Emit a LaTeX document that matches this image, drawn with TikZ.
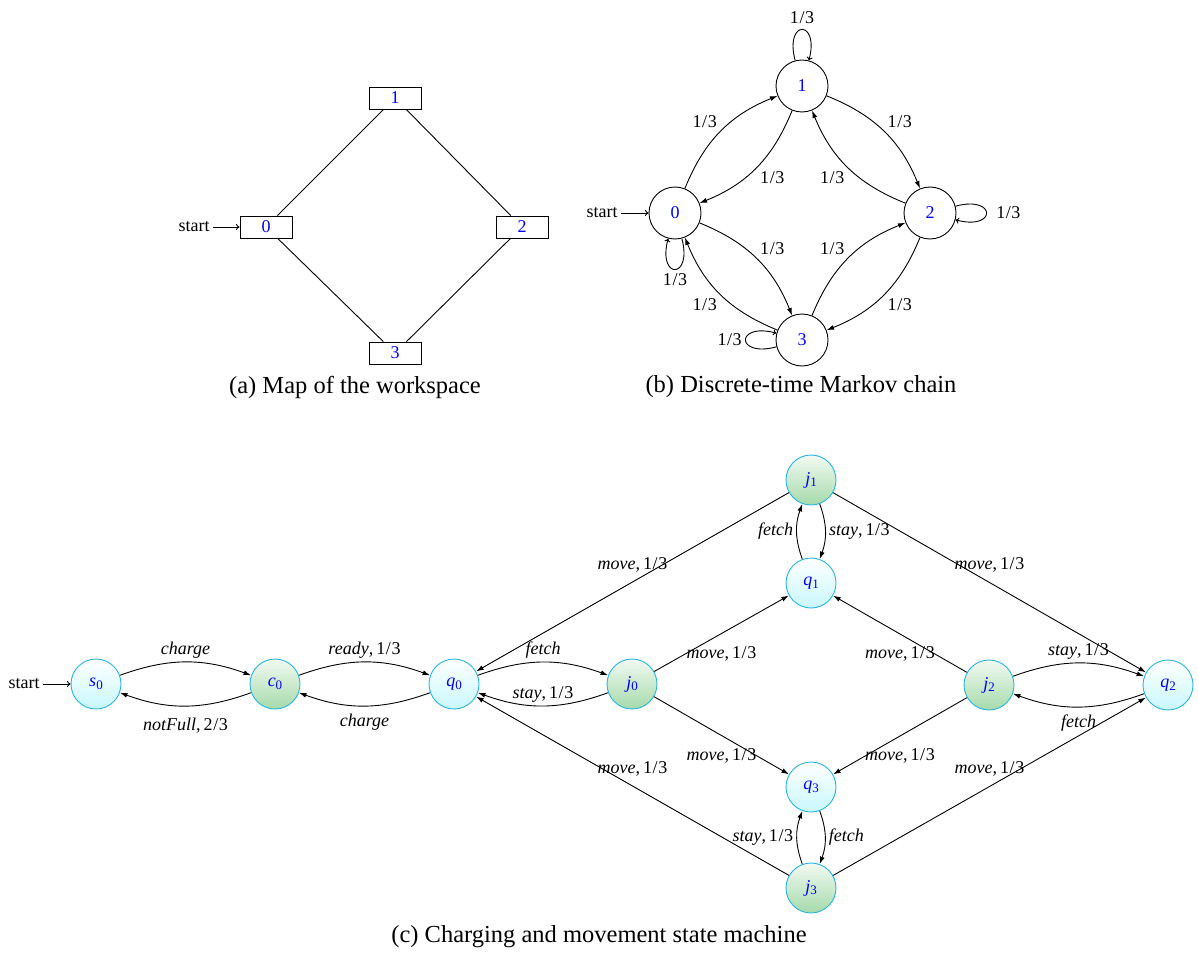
\documentclass[tikz,border=0pt]{standalone}
\usepackage{fontspec}
\setmainfont{Liberation Serif}
\usetikzlibrary{arrows.meta}
\definecolor{nodeborder}{RGB}{40,180,230}
\definecolor{qbottom}{RGB}{200,248,253}
\definecolor{jbottom}{RGB}{165,218,170}
\definecolor{jtop}{RGB}{242,250,242}
\definecolor{numblue}{RGB}{0,0,255}
\newcommand\lblfont{\fontsize{18}{20}\selectfont}
\newcommand\capfont{\fontsize{24.5}{28}\selectfont}
\newcommand\stname[2]{\textit{#1}\raisebox{-0.35ex}{\fontsize{13}{14}\selectfont #2}}
\newcommand\thd{1\kern0.6pt/\kern0.6pt3}
\newcommand\mv{\textit{move},\,\thd}
\begin{document}
\begin{tikzpicture}[x=1pt,y=1pt,line width=0.9pt,font=\lblfont,
  mapbox/.style={draw, minimum width=52pt, minimum height=22pt, inner sep=0pt, text=numblue},
  chainstate/.style={draw, circle, minimum size=52pt, inner sep=0pt, text=numblue},
  qstate/.style={circle, draw=nodeborder, top color=white, bottom color=qbottom, minimum size=50pt, inner sep=0pt, text=numblue},
  jstate/.style={circle, draw=nodeborder, top color=jtop, bottom color=jbottom, minimum size=50pt, inner sep=0pt, text=numblue},
  trans/.style={-{Latex[length=7.5pt,width=5pt]}},
  openarrow/.style={-{To[length=3.5pt,width=6pt]}},
  startlbl/.style={anchor=east, inner sep=3pt},
  mvabove/.style={above, yshift=6pt},
  mvbelow/.style={below, yshift=-9pt},
  cbelow/.style={below, yshift=-4pt},
  caption/.style={font=\capfont, inner sep=0pt}]
\useasboundingbox (0,0) rectangle (1198,-952);

% ---------- (a) ----------
\node[mapbox] (a1) at (395,-98) {1};
\node[mapbox] (a0) at (266,-227) {0};
\node[mapbox] (a2) at (522,-227) {2};
\node[mapbox] (a3) at (395,-353) {3};
\node[startlbl] (sa) at (213,-227) {start};
\draw[openarrow] (sa) -- (a0);
\draw (a1) -- (a0);
\draw (a1) -- (a2);
\draw (a0) -- (a3);
\draw (a2) -- (a3);
\node[caption] (capa) at (355,-387) {(a) Map of the workspace};

% ---------- (b) ----------
\node[chainstate] (b1) at (802,-86) {1};
\node[chainstate] (b0) at (675,-213) {0};
\node[chainstate] (b2) at (930,-213) {2};
\node[chainstate] (b3) at (802,-340) {3};
\node[startlbl] (sb) at (621,-213) {start};
\draw[openarrow] (sb) -- (b0);
\begin{scope}[auto]
\draw[trans] (b0) to[bend left=23] node {\thd} (b1);
\draw[trans] (b1) to[bend left=23] node {\thd} (b0);
\draw[trans] (b1) to[bend left=23] node {\thd} (b2);
\draw[trans] (b2) to[bend left=23] node {\thd} (b1);
\draw[trans] (b0) to[bend left=23] node {\thd} (b3);
\draw[trans] (b3) to[bend left=23] node {\thd} (b0);
\draw[trans] (b3) to[bend left=23] node {\thd} (b2);
\draw[trans] (b2) to[bend left=23] node {\thd} (b3);
\end{scope}
\draw[openarrow] (b1) to[out=105,in=75,looseness=8] node[above, yshift=2pt] {\thd} (b1);
\draw[openarrow] (b0) to[out=285,in=255,looseness=8] node[below] {\thd} (b0);
\draw[openarrow] (b2) to[out=15,in=-15,looseness=8] node[right, xshift=6pt] {\thd} (b2);
\draw[openarrow] (b3) to[out=195,in=165,looseness=8] node[left] {\thd} (b3);
\node[caption] (capb) at (801,-387) {(b) Discrete-time Markov chain};

% ---------- (c) ----------
\node[qstate] (s0) at (96,-684) {\stname{s}{0}};
\node[jstate] (c0) at (275,-684) {\stname{c}{0}};
\node[qstate] (q0) at (454,-684) {\stname{q}{0}};
\node[jstate] (j0) at (632,-684) {\stname{j}{0}};
\node[jstate] (j1) at (811,-480) {\stname{j}{1}};
\node[qstate] (q1) at (811,-583) {\stname{q}{1}};
\node[qstate] (q3) at (811,-787) {\stname{q}{3}};
\node[jstate] (j3) at (811,-888) {\stname{j}{3}};
\node[jstate] (j2) at (989,-685) {\stname{j}{2}};
\node[qstate] (q2) at (1168,-685) {\stname{q}{2}};
\node[startlbl] (sc) at (43,-684) {start};
\draw[openarrow] (sc) -- (s0);

\draw[trans] (s0) to[bend left=20] node[above] {\textit{charge}} (c0);
\draw[trans] (c0) to[bend left=20] node[below, yshift=-8pt] {\textit{notFull},\,2\kern0.6pt/\kern0.6pt3} (s0);
\draw[trans] (c0) to[bend left=20] node[above] {\textit{ready},\,\thd} (q0);
\draw[trans] (q0) to[bend left=20] node[cbelow] {\textit{charge}} (c0);
\draw[trans] (q0) to[bend left=20] node[above] {\textit{fetch}} (j0);
\draw[trans] (j0) to[bend left=20] node[above] {\textit{stay},\,\thd} (q0);

\draw[trans] (j0) -- node[mvbelow] {\mv} (q1);
\draw[trans] (j0) -- node[mvbelow] {\mv} (q3);
\draw[trans] (j1) -- node[mvabove] {\mv} (q0);
\draw[trans] (j1) -- node[mvabove] {\mv} (q2);
\draw[trans] (j2) -- node[mvbelow] {\mv} (q1);
\draw[trans] (j2) -- node[mvbelow] {\mv} (q3);
\draw[trans] (j3) -- node[mvabove] {\mv} (q0);
\draw[trans] (j3) -- node[mvabove] {\mv} (q2);

\draw[trans] (j1) to[bend left=20] node[right] {\textit{stay},\,\thd} (q1);
\draw[trans] (q1) to[bend left=20] node[left] {\textit{fetch}} (j1);
\draw[trans] (j2) to[bend left=20] node[above] {\textit{stay},\,\thd} (q2);
\draw[trans] (q2) to[bend left=20] node[cbelow] {\textit{fetch}} (j2);
\draw[trans] (q3) to[bend left=20] node[right] {\textit{fetch}} (j3);
\draw[trans] (j3) to[bend left=20] node[left] {\textit{stay},\,\thd} (q3);

\node[caption] (capc) at (599,-937) {(c) Charging and movement state machine};
\end{tikzpicture}
\end{document}
